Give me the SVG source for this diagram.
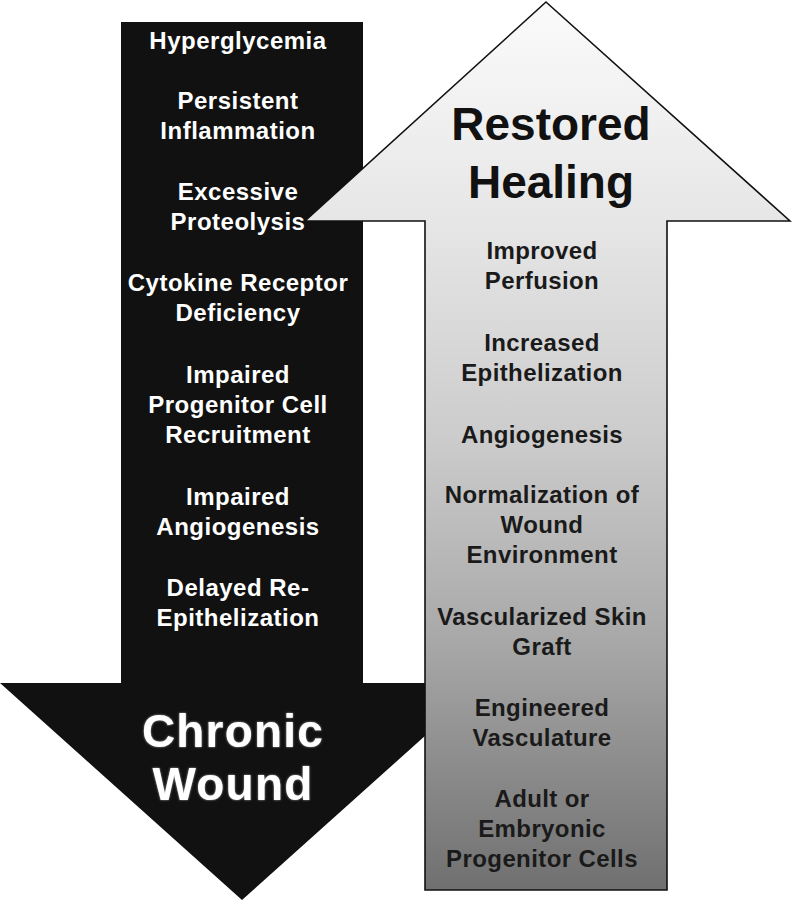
<svg xmlns="http://www.w3.org/2000/svg" width="792" height="903" viewBox="0 0 792 903">
<defs>
<linearGradient id="upGrad" x1="0" y1="0" x2="0" y2="890" gradientUnits="userSpaceOnUse">
<stop offset="0" stop-color="#fbfbfb"/>
<stop offset="0.25" stop-color="#e6e6e6"/>
<stop offset="0.49" stop-color="#cccccc"/>
<stop offset="0.72" stop-color="#a8a8a8"/>
<stop offset="1" stop-color="#707070"/>
</linearGradient>
<filter id="glow" x="-10%" y="-20%" width="120%" height="140%">
<feGaussianBlur in="SourceAlpha" stdDeviation="1.2" result="b"/>
<feFlood flood-color="#9a9a9a"/>
<feComposite in2="b" operator="in" result="s"/>
<feMerge><feMergeNode in="s"/><feMergeNode in="SourceGraphic"/></feMerge>
</filter>
</defs>
<style>
.lt{font-family:"Liberation Sans",Arial,sans-serif;font-weight:bold;font-size:24px;fill:#ffffff;text-anchor:middle;letter-spacing:0.5px}
.rt{font-family:"Liberation Sans",Arial,sans-serif;font-weight:bold;font-size:24px;fill:#1a1a1a;text-anchor:middle;letter-spacing:0.4px}
.big{font-family:"Liberation Sans",Arial,sans-serif;font-weight:bold;font-size:46px;text-anchor:middle}
</style>
<rect width="792" height="903" fill="#ffffff"/>
<g id="chronic-wound-arrow">
<polygon points="121,22 363,22 363,683 484,683 242,900 0,683 121,683" fill="#111111"/>
<text class="big" x="233" y="747" fill="#ffffff" filter="url(#glow)" font-size="44" letter-spacing="1.2">Chronic</text>
<text class="big" x="233" y="800" fill="#ffffff" filter="url(#glow)" font-size="44" letter-spacing="1.2">Wound</text>
<text class="lt" x="238" y="49">Hyperglycemia</text>
<text class="lt" x="238" y="109">Persistent</text>
<text class="lt" x="238" y="139">Inflammation</text>
<text class="lt" x="238" y="200">Excessive</text>
<text class="lt" x="238" y="230">Proteolysis</text>
<text class="lt" x="238" y="291">Cytokine Receptor</text>
<text class="lt" x="238" y="321">Deficiency</text>
<text class="lt" x="238" y="383">Impaired</text>
<text class="lt" x="238" y="413">Progenitor Cell</text>
<text class="lt" x="238" y="443">Recruitment</text>
<text class="lt" x="238" y="505">Impaired</text>
<text class="lt" x="238" y="535">Angiogenesis</text>
<text class="lt" x="238" y="596">Delayed Re-</text>
<text class="lt" x="238" y="626">Epithelization</text>
</g>
<g id="restored-healing-arrow">
<polygon points="546,2 790,221 667,221 667,890 425,890 425,221 305,221" fill="url(#upGrad)" stroke="#111111" stroke-width="1.6" stroke-linejoin="miter"/>
<text class="big" x="551" y="140" fill="#111111">Restored</text>
<text class="big" x="551" y="198" fill="#111111">Healing</text>
<text class="rt" x="542" y="259">Improved</text>
<text class="rt" x="542" y="289">Perfusion</text>
<text class="rt" x="542" y="351">Increased</text>
<text class="rt" x="542" y="381">Epithelization</text>
<text class="rt" x="542" y="443">Angiogenesis</text>
<text class="rt" x="542" y="503">Normalization of</text>
<text class="rt" x="542" y="533">Wound</text>
<text class="rt" x="542" y="563">Environment</text>
<text class="rt" x="542" y="625">Vascularized Skin</text>
<text class="rt" x="542" y="655">Graft</text>
<text class="rt" x="542" y="716">Engineered</text>
<text class="rt" x="542" y="746">Vasculature</text>
<text class="rt" x="542" y="807">Adult or</text>
<text class="rt" x="542" y="837">Embryonic</text>
<text class="rt" x="542" y="867">Progenitor Cells</text>
</g>
<g id="connectors"></g>
</svg>
